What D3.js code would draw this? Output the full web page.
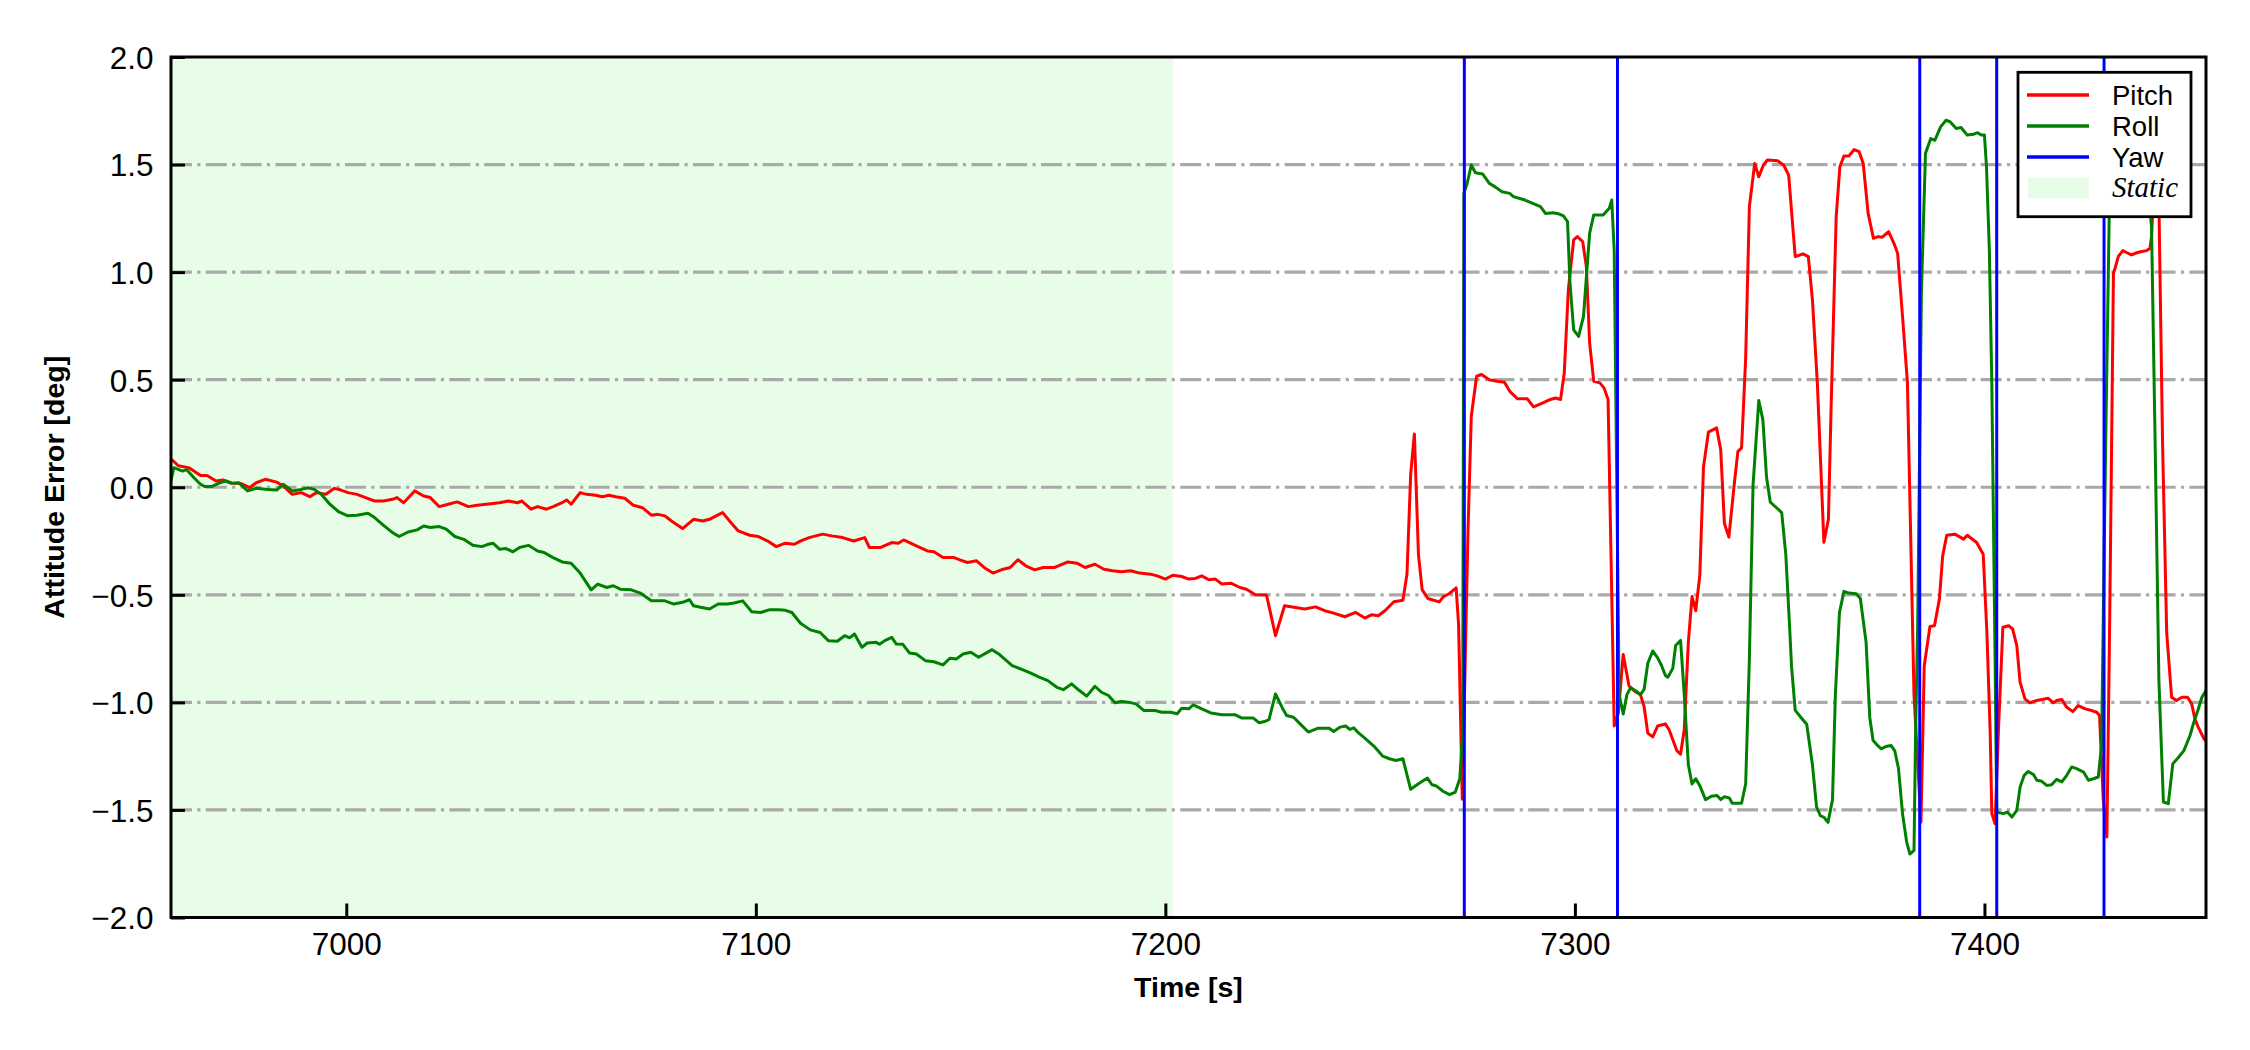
<!DOCTYPE html>
<html><head><meta charset="utf-8">
<script src="https://cdn.jsdelivr.net/npm/d3@7"></script>
<style>body{margin:0;background:#fff}</style>
</head><body>
<svg id="chart" width="2250" height="1050"></svg>
<script>
// ---------- data ----------
const xTicks = [7000, 7100, 7200, 7300, 7400];
const yTicks = [-2.0, -1.5, -1.0, -0.5, 0.0, 0.5, 1.0, 1.5, 2.0];
const timeDomain = [6957.2, 7454.1];
const errorDomain = [-2, 2];
const staticSpan = [6957.2, 7201.8];
const xLabel = "Time [s]";
const yLabel = "Attitude Error [deg]";
const seriesNames = ["Pitch", "Roll", "Yaw"];
const seriesColors = ["#ff0000", "#008000", "#0000ff"];
const staticName = "Static";

// [time s, error deg]
const pitch = [[6957.2,0.12],[6957.3,0.13],[6959,0.10],[6961.7,0.09],[6964.4,0.055],[6966,0.055],[6968.2,0.029],[6969.9,0.034],[6972,0.02],[6974.2,0.018],[6976.4,-0.002],[6978,0.021],[6980.2,0.037],[6983,0.024],[6984.6,0.006],[6986.8,-0.033],[6989,-0.025],[6991.1,-0.044],[6992.7,-0.025],[6995,-0.033],[6997.1,-0.005],[6998.7,-0.013],[7000.4,-0.025],[7002.6,-0.033],[7004.7,-0.048],[7006.9,-0.064],[7009.1,-0.064],[7011.3,-0.056],[7012.4,-0.048],[7014,-0.072],[7016.7,-0.017],[7018.9,-0.041],[7020.5,-0.048],[7022.7,-0.09],[7024.9,-0.079],[7027.1,-0.068],[7029.8,-0.09],[7032,-0.084],[7034.2,-0.079],[7037.4,-0.072],[7039.6,-0.064],[7041.8,-0.072],[7042.9,-0.064],[7045.1,-0.102],[7046.7,-0.09],[7048.9,-0.102],[7050.5,-0.09],[7052.7,-0.072],[7053.8,-0.059],[7054.9,-0.079],[7057.1,-0.025],[7058.7,-0.033],[7060.9,-0.037],[7062.5,-0.044],[7064.1,-0.037],[7065.8,-0.044],[7068,-0.051],[7070.1,-0.084],[7072.3,-0.095],[7074.5,-0.13],[7076.1,-0.126],[7077.8,-0.133],[7079.4,-0.157],[7082.1,-0.192],[7084.8,-0.149],[7087,-0.157],[7088.7,-0.149],[7090.3,-0.133],[7091.9,-0.118],[7093.6,-0.157],[7095.7,-0.203],[7098.5,-0.223],[7100.6,-0.229],[7102.8,-0.249],[7105,-0.276],[7107.2,-0.26],[7109.4,-0.265],[7111,-0.249],[7113,-0.234],[7116.3,-0.218],[7118.5,-0.226],[7121.2,-0.234],[7123.9,-0.25],[7126.6,-0.234],[7127.7,-0.28],[7130.5,-0.28],[7133.2,-0.257],[7134.8,-0.26],[7136.1,-0.245],[7139.2,-0.272],[7141.9,-0.296],[7143.5,-0.3],[7145.7,-0.327],[7148.4,-0.327],[7150,-0.339],[7151.7,-0.35],[7153.9,-0.342],[7156.1,-0.378],[7157.9,-0.399],[7160.4,-0.381],[7162.1,-0.373],[7164,-0.337],[7165.9,-0.365],[7168.1,-0.384],[7170.2,-0.373],[7173,-0.373],[7176.2,-0.347],[7178.4,-0.353],[7180.4,-0.373],[7182.8,-0.358],[7185,-0.381],[7187.1,-0.388],[7189.3,-0.393],[7191.5,-0.388],[7193.7,-0.399],[7196.4,-0.404],[7198,-0.412],[7200,-0.427],[7201.8,-0.409],[7204,-0.415],[7205.7,-0.427],[7207.3,-0.424],[7208.9,-0.412],[7210.6,-0.43],[7212.2,-0.427],[7213.8,-0.45],[7216,-0.446],[7218.2,-0.466],[7219.8,-0.474],[7222,-0.5],[7224.7,-0.501],[7226.9,-0.69],[7229.1,-0.551],[7231.8,-0.559],[7234,-0.566],[7236.7,-0.556],[7238.9,-0.574],[7241.1,-0.585],[7243.8,-0.602],[7246.5,-0.582],[7248.7,-0.608],[7250.3,-0.593],[7252,-0.597],[7253.6,-0.574],[7255.8,-0.532],[7258,-0.525],[7259,-0.403],[7259.9,0.061],[7260.8,0.248],[7261.8,-0.313],[7262.7,-0.476],[7264.1,-0.517],[7265.5,-0.525],[7266.9,-0.533],[7267.9,-0.508],[7269.3,-0.495],[7271,-0.468],[7271.6,-0.639],[7272.5,-1.45],[7273.9,-0.2],[7274.7,0.33],[7276,0.516],[7277.2,0.524],[7279.1,0.5],[7281,0.493],[7282.8,0.488],[7284.1,0.446],[7286,0.411],[7288.4,0.411],[7289.9,0.374],[7292.2,0.392],[7294,0.408],[7295.3,0.415],[7296.5,0.408],[7297.4,0.531],[7298.4,0.918],[7299.7,1.15],[7300.6,1.165],[7301.9,1.142],[7302.8,1.026],[7303.6,0.67],[7304.6,0.493],[7306.1,0.485],[7307.1,0.462],[7308.1,0.408],[7309.6,-1.11],[7310.6,-1.05],[7311.8,-0.777],[7313.2,-0.923],[7314.6,-0.948],[7316,-0.964],[7316.9,-1.02],[7317.8,-1.143],[7319,-1.16],[7320.2,-1.11],[7322.1,-1.1],[7323,-1.127],[7324.9,-1.225],[7325.8,-1.241],[7326.7,-1.127],[7327.7,-0.72],[7328.6,-0.508],[7329.5,-0.574],[7330.5,-0.41],[7331.4,0.094],[7332.6,0.256],[7334.6,0.276],[7335.6,0.175],[7336.5,-0.167],[7337.6,-0.232],[7338.9,0.012],[7339.8,0.167],[7340.7,0.183],[7341.7,0.6],[7342.6,1.304],[7343.9,1.505],[7344.9,1.443],[7346,1.497],[7347,1.521],[7349.5,1.518],[7351,1.497],[7352.2,1.451],[7353.2,1.211],[7353.8,1.072],[7355.7,1.085],[7357,1.072],[7358,0.871],[7359.2,0.485],[7360.8,-0.256],[7361.9,-0.15],[7362.6,0.4],[7363.8,1.258],[7364.7,1.49],[7365.7,1.54],[7366.9,1.54],[7368.2,1.57],[7369.4,1.56],[7370.4,1.505],[7371.6,1.273],[7372.9,1.157],[7374,1.165],[7375,1.162],[7376.6,1.188],[7377.9,1.134],[7378.8,1.088],[7380,0.794],[7381.2,0.485],[7382.8,-0.964],[7384.5,-1.557],[7385.3,-0.83],[7386.7,-0.647],[7387.8,-0.644],[7389,-0.52],[7389.8,-0.319],[7390.8,-0.223],[7392.8,-0.218],[7394.9,-0.241],[7395.8,-0.223],[7398.1,-0.257],[7399.7,-0.311],[7400.6,-0.675],[7401.4,-1.138],[7401.8,-1.517],[7402.6,-1.564],[7403.4,-1.138],[7404.5,-0.651],[7405.9,-0.644],[7406.9,-0.659],[7407.9,-0.736],[7408.7,-0.906],[7409.9,-0.984],[7411.1,-1.002],[7412.8,-0.991],[7415.6,-0.981],[7416.8,-1.002],[7417.8,-0.99],[7418.9,-0.987],[7420.1,-1.023],[7421.6,-1.043],[7422.9,-1.015],[7424.6,-1.03],[7426.2,-1.038],[7427.4,-1.046],[7428.1,-1.061],[7429,-1.448],[7429.9,-1.626],[7430.6,-0.6],[7431.5,0.995],[7431.9,1.018],[7432.7,1.073],[7433.8,1.1],[7434.8,1.09],[7435.9,1.08],[7437.2,1.09],[7438.4,1.096],[7439.6,1.1],[7440.4,1.11],[7440.8,1.165],[7441.5,1.45],[7442.5,1.45],[7443.5,0.2],[7444.5,-0.675],[7445.7,-0.976],[7446.9,-0.991],[7448.2,-0.976],[7449.6,-0.976],[7450.6,-1.007],[7451.4,-1.077],[7452.2,-1.115],[7453.6,-1.169],[7454.1,-1.18]];

const roll = [[6957.2,0.03],[6957.9,0.091],[6960,0.075],[6961,0.082],[6962.8,0.044],[6964.4,0.014],[6965.5,0.003],[6967.1,0.003],[6968.8,0.018],[6970.4,0.029],[6972,0.018],[6973.7,0.021],[6975.9,-0.017],[6978,-0.005],[6980.8,-0.01],[6983,-0.013],[6984.6,0.014],[6986.8,-0.017],[6989,-0.01],[6990.6,-0.002],[6992.2,-0.01],[6993.9,-0.033],[6996,-0.079],[6998.2,-0.115],[7000.4,-0.133],[7002.6,-0.13],[7005.3,-0.121],[7006.9,-0.141],[7009.1,-0.177],[7011.3,-0.211],[7012.9,-0.229],[7015.1,-0.208],[7017.3,-0.198],[7018.9,-0.18],[7020.5,-0.187],[7022.7,-0.183],[7024.4,-0.195],[7026.5,-0.229],[7028.7,-0.242],[7030.9,-0.27],[7033.1,-0.276],[7034.7,-0.265],[7035.8,-0.26],[7037.4,-0.288],[7039,-0.285],[7040.7,-0.3],[7042.3,-0.28],[7044.5,-0.27],[7046.7,-0.296],[7048.3,-0.303],[7050.5,-0.327],[7052.7,-0.347],[7054.9,-0.353],[7057.1,-0.399],[7059.8,-0.477],[7061.4,-0.45],[7063.6,-0.466],[7065.2,-0.458],[7066.9,-0.474],[7069.6,-0.477],[7071.8,-0.492],[7074.5,-0.528],[7077.8,-0.528],[7080,-0.543],[7082.1,-0.535],[7083.8,-0.523],[7084.8,-0.551],[7086.5,-0.558],[7088.7,-0.566],[7090.8,-0.543],[7093,-0.543],[7094.7,-0.538],[7096.8,-0.528],[7099,-0.579],[7101.2,-0.582],[7103.4,-0.569],[7105.6,-0.569],[7107.2,-0.572],[7108.8,-0.582],[7110.9,-0.632],[7113.3,-0.663],[7115.7,-0.675],[7117.7,-0.713],[7119.9,-0.716],[7121.7,-0.69],[7122.9,-0.70],[7124.1,-0.682],[7125.9,-0.744],[7127.2,-0.724],[7129.4,-0.721],[7130.2,-0.73],[7131.5,-0.713],[7133.2,-0.698],[7134.3,-0.729],[7135.9,-0.73],[7137.5,-0.77],[7139.2,-0.775],[7141.4,-0.806],[7143.5,-0.811],[7145.7,-0.826],[7147.4,-0.795],[7149,-0.798],[7150.6,-0.775],[7152.5,-0.767],[7154.4,-0.79],[7157.7,-0.755],[7159.3,-0.775],[7162.6,-0.829],[7164.8,-0.845],[7167,-0.863],[7169.2,-0.883],[7171.3,-0.899],[7173.5,-0.93],[7175.1,-0.941],[7177.1,-0.914],[7179,-0.945],[7180.8,-0.971],[7182.8,-0.925],[7184.4,-0.953],[7186.1,-0.968],[7187.7,-1.002],[7189.3,-0.996],[7191.2,-1.0],[7192.8,-1.007],[7194.8,-1.038],[7197.5,-1.038],[7199.1,-1.046],[7201.3,-1.046],[7202.9,-1.053],[7204,-1.027],[7205.7,-1.03],[7206.8,-1.012],[7208.9,-1.03],[7211.1,-1.049],[7213.8,-1.058],[7217.1,-1.058],[7218.7,-1.073],[7221.5,-1.073],[7222.9,-1.095],[7224.2,-1.089],[7225.3,-1.08],[7226.9,-0.961],[7228.6,-1.027],[7229.6,-1.061],[7231.3,-1.069],[7232.9,-1.1],[7234.9,-1.138],[7237.3,-1.12],[7240,-1.12],[7241.1,-1.135],[7242.7,-1.115],[7244,-1.11],[7245.1,-1.126],[7246,-1.118],[7247.1,-1.141],[7248.7,-1.166],[7250.9,-1.203],[7253.1,-1.25],[7254.7,-1.262],[7256.3,-1.27],[7258,-1.262],[7259.9,-1.404],[7261.8,-1.378],[7264,-1.352],[7265.1,-1.383],[7266.2,-1.389],[7267.8,-1.413],[7269.4,-1.429],[7270.8,-1.417],[7271.9,-1.355],[7272.6,-1.138],[7272.9,1.366],[7273.7,1.413],[7274.7,1.498],[7275.7,1.462],[7277.5,1.456],[7279.1,1.413],[7280.7,1.394],[7282.2,1.374],[7284.1,1.366],[7285,1.351],[7287.8,1.335],[7289.7,1.32],[7291.6,1.304],[7292.8,1.273],[7294.7,1.276],[7296.2,1.27],[7297.2,1.261],[7298.2,1.235],[7298.8,0.949],[7299.7,0.732],[7300.9,0.701],[7302.1,0.794],[7303.6,1.181],[7304.6,1.266],[7306.9,1.266],[7308.4,1.297],[7309,1.335],[7309.6,1.1],[7310.8,-0.964],[7311.8,-1.054],[7312.7,-0.964],[7313.6,-0.932],[7315,-0.948],[7316,-0.964],[7316.9,-0.94],[7317.8,-0.818],[7319,-0.761],[7320.2,-0.793],[7321.1,-0.826],[7322.1,-0.875],[7322.7,-0.883],[7323.9,-0.842],[7324.6,-0.736],[7325.8,-0.712],[7326.7,-0.964],[7327.7,-1.29],[7328.6,-1.379],[7329.5,-1.355],[7330.5,-1.387],[7331.9,-1.452],[7333.3,-1.436],[7334.7,-1.433],[7335.6,-1.452],[7336.5,-1.439],[7337.7,-1.444],[7338.4,-1.469],[7340.7,-1.469],[7341.7,-1.379],[7342.6,-0.801],[7343.5,0.012],[7344.9,0.403],[7345.9,0.313],[7346.8,0.045],[7347.7,-0.069],[7349.1,-0.093],[7350.5,-0.118],[7351.5,-0.313],[7352.4,-0.639],[7352.9,-0.834],[7353.8,-1.037],[7355.2,-1.07],[7356.6,-1.102],[7358,-1.29],[7359,-1.485],[7359.9,-1.526],[7360.8,-1.534],[7361.8,-1.558],[7362.9,-1.452],[7363.6,-0.964],[7364.6,-0.582],[7365.7,-0.484],[7366.9,-0.492],[7368.7,-0.495],[7369.7,-0.517],[7371.1,-0.72],[7372,-1.07],[7372.8,-1.176],[7373.9,-1.2],[7374.8,-1.216],[7376,-1.205],[7377.2,-1.2],[7378.1,-1.225],[7379,-1.306],[7380,-1.517],[7381,-1.648],[7381.8,-1.705],[7382.8,-1.688],[7383.2,-1.127],[7383.7,-0.639],[7384.6,0.9],[7385.6,1.552],[7386.9,1.621],[7387.9,1.613],[7389.3,1.675],[7390.6,1.706],[7391.6,1.699],[7393.1,1.668],[7394.3,1.672],[7395.8,1.637],[7397.4,1.641],[7398.3,1.648],[7399.3,1.637],[7400,1.637],[7400.5,1.49],[7401.2,1.103],[7401.8,0.485],[7402.6,-0.8],[7403,-1.51],[7404.6,-1.517],[7405.6,-1.51],[7406.7,-1.533],[7407.9,-1.502],[7408.7,-1.394],[7409.7,-1.339],[7410.7,-1.321],[7412,-1.336],[7412.8,-1.362],[7414,-1.367],[7415.2,-1.386],[7416.4,-1.383],[7417.6,-1.358],[7418.9,-1.37],[7420.1,-1.339],[7421.3,-1.3],[7422.5,-1.308],[7424.2,-1.324],[7425.4,-1.362],[7426.6,-1.355],[7427.8,-1.347],[7428.6,-1.2],[7429.6,0.2],[7430.5,1.3],[7431.5,1.4],[7434,1.42],[7437,1.4],[7440,1.38],[7440.8,1.21],[7441.6,0.3],[7442.6,-0.9],[7443.7,-1.463],[7444.9,-1.471],[7446,-1.285],[7447.4,-1.255],[7448.7,-1.224],[7450.2,-1.154],[7451,-1.1],[7452.1,-1.038],[7453.1,-0.976],[7454.1,-0.945]];

// yaw error wraps outside the plotted range; crossings show as vertical lines
const yawTime  = [6957.2, 7272.5, 7273.5, 7309.9, 7310.9, 7383.7, 7384.7, 7402.5, 7403.5, 7428.7, 7429.7, 7454.1];
const yawValue = [-178, -178, 178, 178, -178, -178, 178, 178, -178, -178, 178, 178];

// ---------- chart ----------
const svg = d3.select("#chart");
svg.append("rect").attr("width", 2250).attr("height", 1050).attr("fill", "#fff");
const L = 171, R = 2206, T = 57, B = 917.5;
const x = d3.scaleLinear().domain(timeDomain).range([L, R]);
const y = d3.scaleLinear().domain(errorDomain).range([B, T]);
const font = "'Liberation Sans', Arial, Helvetica, sans-serif";
const staticColor = "#e8fde8";

svg.append("clipPath").attr("id", "plotclip")
  .append("rect").attr("x", L).attr("y", T).attr("width", R - L).attr("height", B - T);

// static span
svg.append("rect")
  .attr("x", x(staticSpan[0])).attr("y", T)
  .attr("width", x(staticSpan[1]) - x(staticSpan[0])).attr("height", B - T)
  .attr("fill", staticColor);

// grid
svg.append("g").selectAll("line")
  .data(yTicks.filter(v => v > errorDomain[0] && v < errorDomain[1]))
  .join("line")
  .attr("x1", L).attr("x2", R)
  .attr("y1", d => y(d)).attr("y2", d => y(d))
  .attr("stroke", "#a9a9a9").attr("stroke-width", 3.2)
  .attr("stroke-dasharray", "21,5.3,3.2,5.3");

// series
const line = d3.line().x(d => x(d[0])).y(d => y(d[1]));
const plot = svg.append("g").attr("clip-path", "url(#plotclip)");
plot.append("path").datum(pitch).attr("d", line)
  .attr("fill", "none").attr("stroke", seriesColors[0]).attr("stroke-width", 3).attr("stroke-linejoin", "round");
plot.append("path").datum(roll).attr("d", line)
  .attr("fill", "none").attr("stroke", seriesColors[1]).attr("stroke-width", 3).attr("stroke-linejoin", "round");
plot.append("path").datum(yawTime.map((t, i) => [t, yawValue[i]])).attr("d", line)
  .attr("fill", "none").attr("stroke", seriesColors[2]).attr("stroke-width", 3);

// axes
const xAxis = d3.axisBottom(x).tickValues(xTicks).tickFormat(d3.format("d"))
  .tickSizeInner(-14).tickSizeOuter(0).tickPadding(15);
const gx = svg.append("g").attr("transform", `translate(0,${B})`).call(xAxis);
gx.select(".domain").remove();
gx.selectAll(".tick line").attr("stroke", "#000").attr("stroke-width", 3);
gx.selectAll(".tick text").attr("font-family", font).attr("font-size", 31.5).attr("fill", "#000")
  .attr("dy", null).attr("y", 37.5);

const yAxis = d3.axisLeft(y).tickValues(yTicks).tickFormat(d3.format(".1f"))
  .tickSizeInner(-14).tickSizeOuter(0).tickPadding(17.5);
const gy = svg.append("g").attr("transform", `translate(${L},0)`).call(yAxis);
gy.select(".domain").remove();
gy.selectAll(".tick line").attr("stroke", "#000").attr("stroke-width", 3);
gy.selectAll(".tick text").attr("font-family", font).attr("font-size", 31.5).attr("fill", "#000")
  .attr("dy", "0.36em");

// frame
svg.append("rect").attr("x", L).attr("y", T).attr("width", R - L).attr("height", B - T)
  .attr("fill", "none").attr("stroke", "#000").attr("stroke-width", 3);

// axis labels
svg.append("text").attr("x", (L + R) / 2).attr("y", 997)
  .attr("text-anchor", "middle").attr("font-family", font).attr("font-weight", "bold")
  .attr("font-size", 28.5).text(xLabel);
svg.append("text").attr("transform", `translate(64,${(T + B) / 2}) rotate(-90)`)
  .attr("text-anchor", "middle").attr("font-family", font).attr("font-weight", "bold")
  .attr("font-size", 28.5).text(yLabel);

// legend
const lg = svg.append("g");
lg.append("rect").attr("x", 2018).attr("y", 72.3).attr("width", 173).attr("height", 144.4)
  .attr("fill", "#fff").attr("stroke", "#000").attr("stroke-width", 2.8);
const rowY = [95, 126, 157, 187.5];
seriesNames.forEach((name, i) => {
  lg.append("line").attr("x1", 2027).attr("x2", 2089).attr("y1", rowY[i]).attr("y2", rowY[i])
    .attr("stroke", seriesColors[i]).attr("stroke-width", 3.3);
  lg.append("text").attr("x", 2112).attr("y", rowY[i]).attr("dy", "0.36em")
    .attr("font-family", font).attr("font-size", 27.5).text(name);
});
lg.append("rect").attr("x", 2028).attr("y", 177.5).attr("width", 61).attr("height", 21)
  .attr("fill", staticColor);
lg.append("text").attr("x", 2112).attr("y", rowY[3]).attr("dy", "0.33em")
  .attr("font-family", "'Liberation Serif', 'Times New Roman', serif").attr("font-style", "italic")
  .attr("font-size", 29).text(staticName);
</script>
</body></html>
